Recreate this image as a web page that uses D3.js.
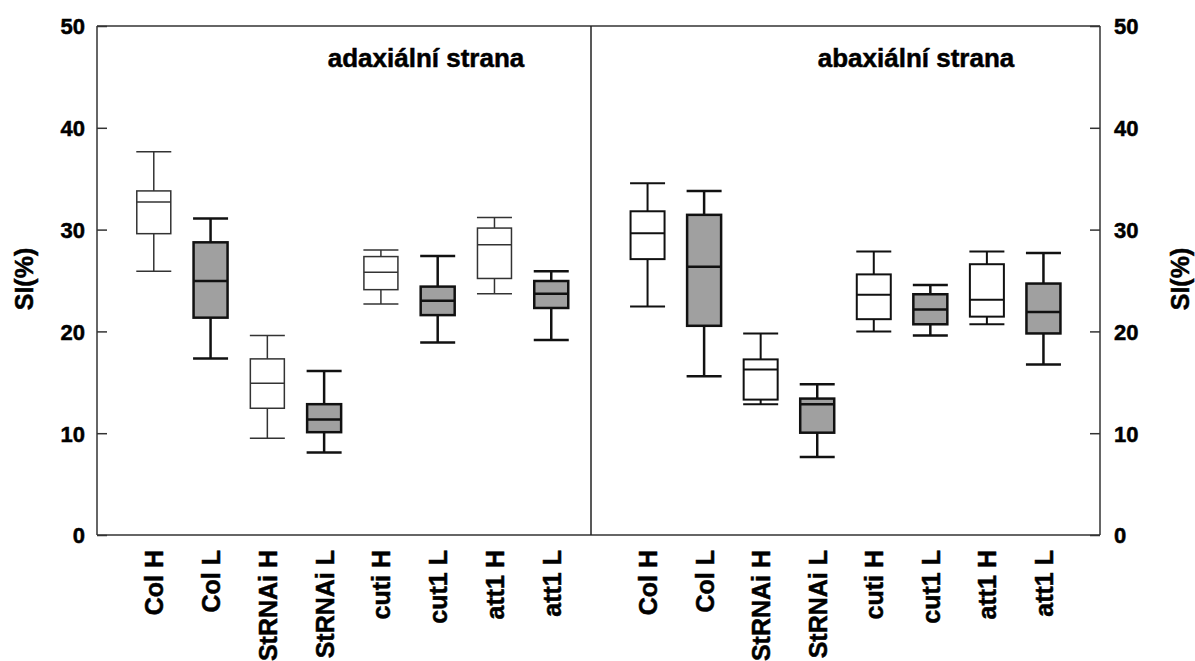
<!DOCTYPE html>
<html>
<head>
<meta charset="utf-8">
<script src="https://cdn.jsdelivr.net/npm/d3@7"></script>
<style>
  body { margin: 0; background: #fff; }
  svg { display: block; }
  text { font-family: "Liberation Sans", Arial, sans-serif; font-weight: bold; fill: #000; stroke: #000; stroke-width: 0.5px; }
</style>
</head>
<body>
<div id="chart"></div>
<script>
const categories = ['Col H', 'Col L', 'StRNAi H', 'StRNAi L', 'cuti H', 'cut1 L', 'att1 H', 'att1 L'];
const yTicks = [0, 10, 20, 30, 40, 50];

// adaxiální strana
const adaxLow = [25.9, 17.35, 9.5, 8.1, 22.7, 18.9, 23.7, 19.15];
const adaxQ1 = [29.6, 21.35, 12.45, 10.1, 24.1, 21.6, 25.2, 22.3];
const adaxMedian = [32.7, 24.95, 14.9, 11.35, 25.8, 23.0, 28.5, 23.7];
const adaxQ3 = [33.8, 28.75, 17.3, 12.85, 27.35, 24.4, 30.15, 24.95];
const adaxHigh = [37.65, 31.1, 19.6, 16.1, 28.0, 27.4, 31.2, 25.9];

// abaxiální strana
const abaxLow = [22.45, 15.6, 12.85, 7.65, 20.0, 19.6, 20.7, 16.75];
const abaxQ1 = [27.1, 20.55, 13.3, 10.05, 21.2, 20.7, 21.45, 19.8];
const abaxMedian = [29.65, 26.35, 16.25, 12.85, 23.6, 22.15, 23.1, 21.9];
const abaxQ3 = [31.8, 31.45, 17.25, 13.4, 25.6, 23.65, 26.6, 24.7];
const abaxHigh = [34.55, 33.8, 19.8, 14.8, 27.85, 24.55, 27.85, 27.7];

const W = 1195, H = 661;
const plot = { left: 97, right: 1100, top: 26, bottom: 535, split: 591 };

const svg = d3.select('#chart').append('svg').attr('width', W).attr('height', H);

const y = d3.scaleLinear().domain([0, 50]).range([plot.bottom, plot.top]);
const xLeft = d3.scaleLinear().domain([0, 8.7]).range([plot.left, plot.split]);
const xRight = d3.scaleLinear().domain([0, 9]).range([plot.split, plot.right]);

// frame
const frame = svg.append('g').attr('stroke', '#333').attr('stroke-width', 1.5).attr('fill', 'none');
frame.append('line').attr('x1', plot.left).attr('x2', plot.right).attr('y1', plot.top).attr('y2', plot.top);
frame.append('line').attr('x1', plot.left).attr('x2', plot.right).attr('y1', plot.bottom).attr('y2', plot.bottom);
frame.append('line').attr('x1', plot.left).attr('x2', plot.left).attr('y1', plot.top).attr('y2', plot.bottom);
frame.append('line').attr('x1', plot.right).attr('x2', plot.right).attr('y1', plot.top).attr('y2', plot.bottom);
frame.append('line').attr('x1', plot.split).attr('x2', plot.split).attr('y1', plot.top).attr('y2', plot.bottom).attr('stroke', '#222');

// y axes, ticks pointing inward
svg.append('g')
  .attr('transform', `translate(${plot.left},0)`)
  .call(d3.axisLeft(y).tickValues(yTicks).tickSizeInner(-10).tickSizeOuter(0).tickPadding(12))
  .call(g => g.select('.domain').remove())
  .call(g => g.selectAll('.tick line').attr('stroke', '#333').attr('stroke-width', 1.5))
  .call(g => g.selectAll('.tick text').style('font-size', '22px').attr('dy', '0.36em'));

svg.append('g')
  .attr('transform', `translate(${plot.right},0)`)
  .call(d3.axisRight(y).tickValues(yTicks).tickSizeInner(-10).tickSizeOuter(0).tickPadding(14))
  .call(g => g.select('.domain').remove())
  .call(g => g.selectAll('.tick line').attr('stroke', '#333').attr('stroke-width', 1.5))
  .call(g => g.selectAll('.tick text').style('font-size', '22px').attr('dy', '0.36em'));

// y labels
svg.append('text')
  .attr('transform', 'translate(24,279) rotate(-90)')
  .attr('text-anchor', 'middle').attr('dy', '0.35em')
  .style('font-size', '25px').text('SI(%)');
svg.append('text')
  .attr('transform', 'translate(1180,279) rotate(-90)')
  .attr('text-anchor', 'middle').attr('dy', '0.35em')
  .style('font-size', '25px').text('SI(%)');

function drawPanel(x, low, q1, median, q3, high, title, titleX, hStroke, hWidth) {
  // category labels via bottom axis
  svg.append('g')
    .attr('transform', `translate(0,${plot.bottom})`)
    .call(d3.axisBottom(x).tickValues(d3.range(1, categories.length + 1))
      .tickFormat(i => categories[i - 1]).tickSize(0).tickPadding(0))
    .call(g => g.select('.domain').remove())
    .call(g => g.selectAll('.tick text')
      .attr('transform', 'translate(0,15) rotate(-90)')
      .attr('text-anchor', 'end')
      .attr('x', 0).attr('y', 0).attr('dy', '0.36em')
      .style('font-size', '25px'));

  const half = 17;
  const rows = categories.map((c, i) => ({
    name: c, pos: i + 1, low: low[i], q1: q1[i], median: median[i], q3: q3[i], high: high[i],
    light: c.endsWith('H')
  }));

  const g = svg.append('g');
  const box = g.selectAll('g.box').data(rows).enter().append('g').attr('class', 'box')
    .attr('stroke', d => d.light ? hStroke : '#111')
    .attr('stroke-width', d => d.light ? hWidth : 2.5);

  box.append('line')
    .attr('x1', d => x(d.pos)).attr('x2', d => x(d.pos))
    .attr('y1', d => y(d.high)).attr('y2', d => y(d.q3));
  box.append('line')
    .attr('x1', d => x(d.pos)).attr('x2', d => x(d.pos))
    .attr('y1', d => y(d.q1)).attr('y2', d => y(d.low));
  box.append('line')
    .attr('x1', d => x(d.pos) - half - 0.5).attr('x2', d => x(d.pos) + half + 0.5)
    .attr('y1', d => y(d.high)).attr('y2', d => y(d.high));
  box.append('line')
    .attr('x1', d => x(d.pos) - half - 0.5).attr('x2', d => x(d.pos) + half + 0.5)
    .attr('y1', d => y(d.low)).attr('y2', d => y(d.low));
  box.append('rect')
    .attr('x', d => x(d.pos) - half).attr('width', half * 2)
    .attr('y', d => y(d.q3)).attr('height', d => y(d.q1) - y(d.q3))
    .attr('fill', d => d.light ? '#fff' : '#a0a0a0');
  box.append('line')
    .attr('x1', d => x(d.pos) - half).attr('x2', d => x(d.pos) + half)
    .attr('y1', d => y(d.median)).attr('y2', d => y(d.median));

  svg.append('text')
    .attr('x', titleX).attr('y', 67)
    .attr('text-anchor', 'middle')
    .style('font-size', '26px')
    .text(title);
}

drawPanel(xLeft, adaxLow, adaxQ1, adaxMedian, adaxQ3, adaxHigh, 'adaxiální strana', 426, '#333', 1.5);
drawPanel(xRight, abaxLow, abaxQ1, abaxMedian, abaxQ3, abaxHigh, 'abaxiální strana', 916, '#111', 2);
</script>
</body>
</html>
